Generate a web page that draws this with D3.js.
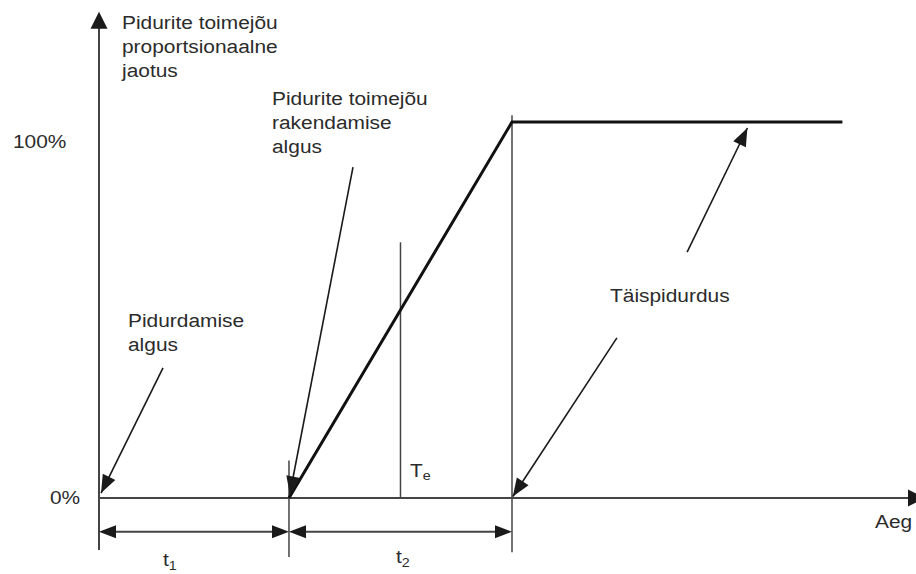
<!DOCTYPE html>
<html>
<head>
<meta charset="utf-8">
<script src="https://cdn.jsdelivr.net/npm/d3@7"></script>
<style>
  body { margin: 0; background: #fff; }
  svg { display: block; }
  text { font-family: "Liberation Sans", Arial, sans-serif; fill: #2b2b2b; }
</style>
</head>
<body>
<svg id="chart"></svg>
<script>
// time in arbitrary units, level in % of full braking force
const eventTimes = [0, 4.6, 10];          // braking start, application start, full braking
const curveTime = [4.6, 10, 18];
const curveLevel = [0, 100, 100];
const levelTicks = [0, 100];
const levelLabels = ["0%", "100%"];
const teTime = 7.3;
const teTop = 68;
const intervalNames = ["1", "2"];        // t1, t2 subscripts

const width = 916, height = 574;
const svg = d3.select("#chart").attr("width", width).attr("height", height);

const x = d3.scaleLinear().domain([0, 10]).range([99, 512]);
const y = d3.scaleLinear().domain([0, 100]).range([498, 122]);

const ink = "#1a1a1a";
const FS = 19, SX = 1.1;

function head(g, tip, from, len, w) {
    const dx = tip[0] - from[0], dy = tip[1] - from[1];
    const d = Math.hypot(dx, dy), ux = dx / d, uy = dy / d;
    const bx = tip[0] - ux * len, by = tip[1] - uy * len;
    const px = -uy * w / 2, py = ux * w / 2;
    g.append("path")
        .attr("d", `M${tip[0]},${tip[1]}L${bx + px},${by + py}L${bx - px},${by - py}Z`)
        .attr("fill", ink);
}

function label(px, py, lines, anchor) {
    const t = svg.append("text")
        .attr("transform", `translate(${px},${py}) scale(${SX},1)`)
        .attr("font-size", FS)
        .attr("text-anchor", anchor || "start");
    lines.forEach((s, i) => t.append("tspan").attr("x", 0).attr("dy", i ? 24 : 0).text(s));
    return t;
}

const g = svg.append("g");

// axes
g.append("line").attr("x1", x(0)).attr("x2", x(0)).attr("y1", y(-13.8)).attr("y2", y(126))
    .attr("stroke", "#444").attr("stroke-width", 2);
head(g, [x(0), y(129.3)], [x(0), y(0)], 17, 17);
g.append("line").attr("x1", x(0)).attr("x2", x(19.6)).attr("y1", y(0)).attr("y2", y(0))
    .attr("stroke", "#444").attr("stroke-width", 2);
head(g, [x(20.0), y(0)], [x(0), y(0)], 17, 17);

// event verticals
g.append("line").attr("x1", x(eventTimes[1])).attr("x2", x(eventTimes[1]))
    .attr("y1", y(10)).attr("y2", y(-15.7)).attr("stroke", "#444").attr("stroke-width", 1.5);
g.append("line").attr("x1", x(eventTimes[2])).attr("x2", x(eventTimes[2]))
    .attr("y1", y(101.8)).attr("y2", y(-14.4)).attr("stroke", "#444").attr("stroke-width", 1.5);
g.append("line").attr("x1", x(teTime)).attr("x2", x(teTime))
    .attr("y1", y(teTop)).attr("y2", y(0)).attr("stroke", "#444").attr("stroke-width", 1.5);

// braking force curve
const line = d3.line().x((d, i) => x(curveTime[i])).y(d => y(d));
g.append("path").datum(curveLevel).attr("d", line)
    .attr("fill", "none").attr("stroke", "#111").attr("stroke-width", 3)
    .attr("stroke-linejoin", "miter");

// interval dimensions t1, t2
const dimY = y(-9);
for (let i = 0; i < 2; i++) {
    const a = x(eventTimes[i]), b = x(eventTimes[i + 1]);
    g.append("line").attr("x1", a + 4).attr("x2", b - 4).attr("y1", dimY).attr("y2", dimY)
        .attr("stroke", "#444").attr("stroke-width", 2);
    head(g, [a, dimY], [b, dimY], 17, 13);
    head(g, [b, dimY], [a, dimY], 17, 13);
}
const tPos = [[163, 566], [396, 563]];
intervalNames.forEach((n, i) => {
    const t = svg.append("text").attr("transform", `translate(${tPos[i][0]},${tPos[i][1]}) scale(${SX},1)`)
        .attr("font-size", FS);
    t.append("tspan").text("t");
    t.append("tspan").attr("font-size", 13).attr("dy", 4).text(n);
});

// Te
const te = svg.append("text").attr("transform", `translate(410,477) scale(${SX},1)`).attr("font-size", FS);
te.append("tspan").text("T");
te.append("tspan").attr("font-size", 13).attr("dy", 3).text("e");

// level labels
const levelPos = [[50, 504], [13, 148]];
levelTicks.forEach((v, i) => label(levelPos[i][0], levelPos[i][1], [levelLabels[i]]));

// axis titles
label(122, 29, ["Pidurite toimejõu", "proportsionaalne", "jaotus"]);
label(875, 528, ["Aeg"]);

// annotations: text, then arrows (tail -> tip in data units)
label(128, 327, ["Pidurdamise", "algus"]);
label(272, 105, ["Pidurite toimejõu", "rakendamise", "algus"]);
label(610, 302, ["Täispidurdus"]);

const arrows = [
    { tail: [1.55, 34.6], tip: [0.05, 1.3] },
    { tail: [6.15, 88.0], tip: [4.62, 1.0] },
    { tail: [14.24, 65.4], tip: [15.7, 98.4] },
    { tail: [12.54, 42.6], tip: [10.02, 0.4] }
];
arrows.forEach(a => {
    const p0 = [x(a.tail[0]), y(a.tail[1])], p1 = [x(a.tip[0]), y(a.tip[1])];
    g.append("line").attr("x1", p0[0]).attr("y1", p0[1]).attr("x2", p1[0]).attr("y2", p1[1])
        .attr("stroke", ink).attr("stroke-width", 1.6);
    head(g, p1, p0, 18, 14);
});
</script>
</body>
</html>
